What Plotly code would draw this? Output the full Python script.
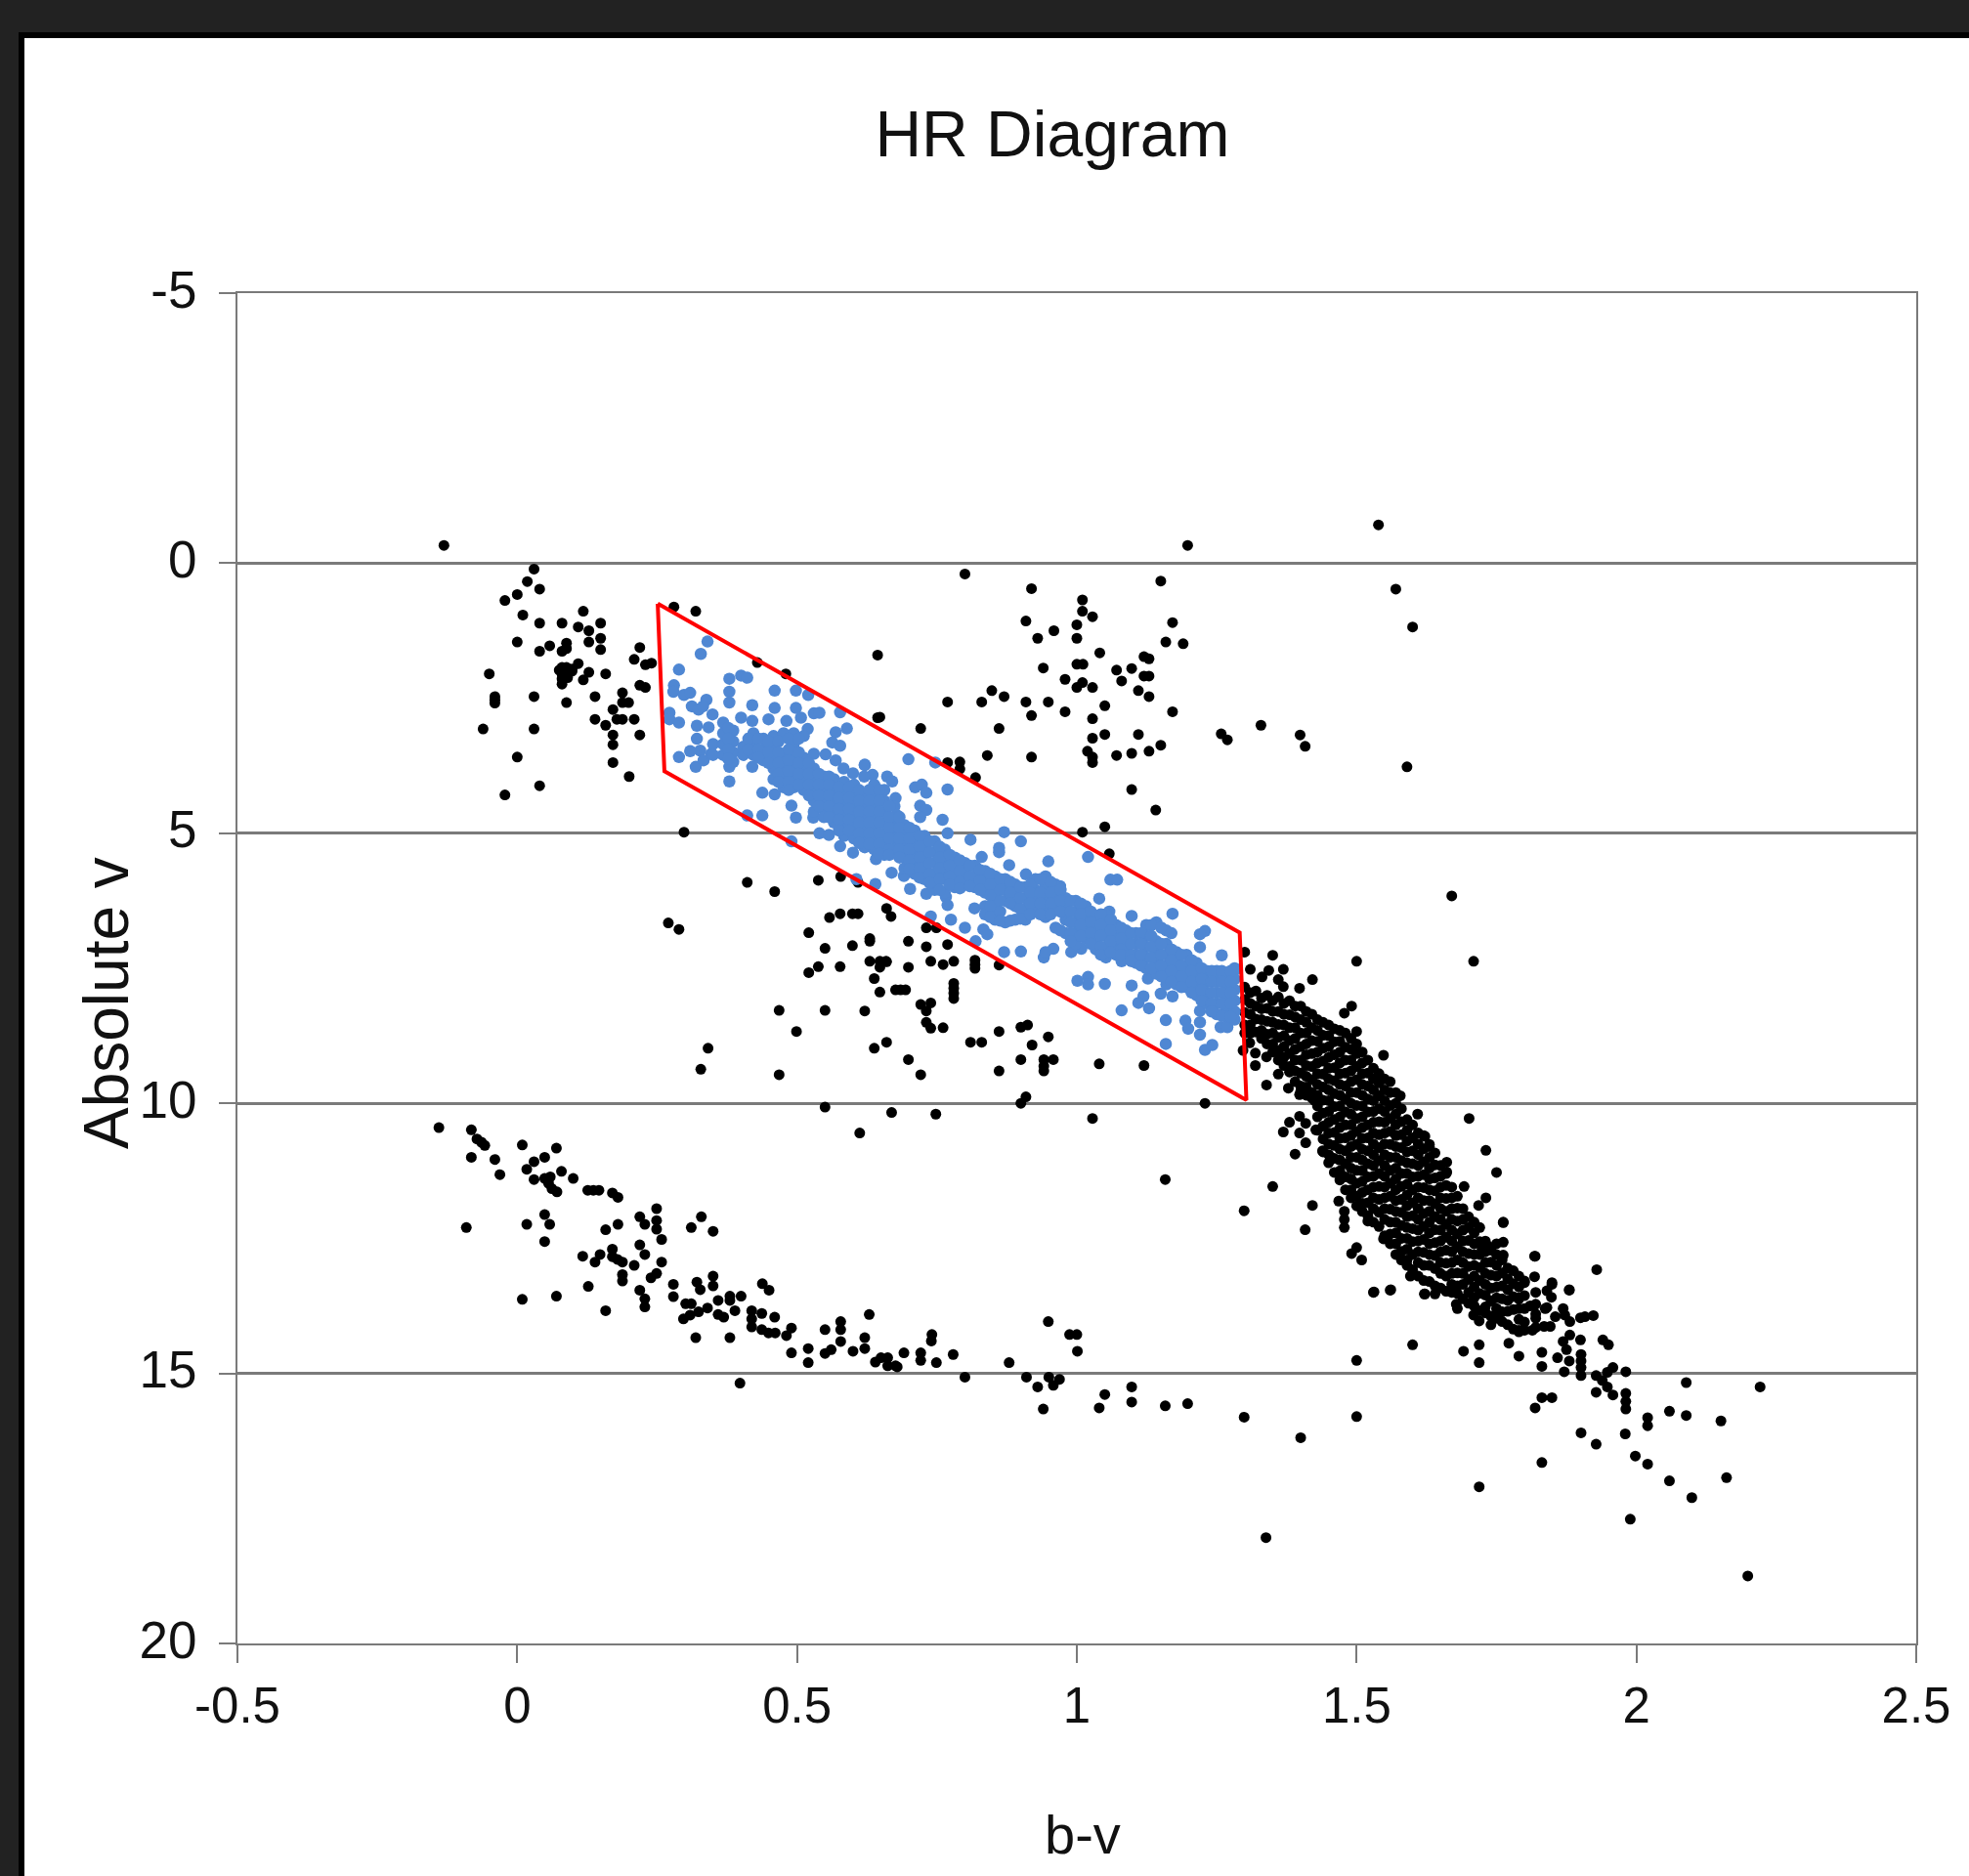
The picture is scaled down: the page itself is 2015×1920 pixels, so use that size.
import plotly.graph_objects as go

x_ticks = [-0.5, 0, 0.5, 1, 1.5, 2, 2.5]
x_tick_text = ["-0.5", "0", "0.5", "1", "1.5", "2", "2.5"]
y_ticks = [-5, 0, 5, 10, 15, 20]
y_tick_text = ["-5", "0", "5", "10", "15", "20"]

region_bv = [0.251, 1.291, 1.303, 0.263, 0.251]
region_mag = [0.75, 6.84, 9.94, 3.85, 0.75]

hot_giants = [(-.131,-.33),(.03,.11),(.018,.34),(.04,.48),(0,.58),(-.022,.69),(.01,.96),(.04,1.11),(.08,1.11),(.118,.89),
(.149,1.11),(.109,1.18),(.128,1.25),(.149,1.39),(.128,1.46),(.149,1.6),(0,1.46),(.04,1.63),(.058,1.53),(.088,1.48),(.08,1.63),
(.088,1.58),(.219,1.56),(.209,1.78),(.229,1.88),(.24,1.85),(.28,.81),(.319,.89),(-.05,2.05),(-.04,2.47),(-.04,2.53),(-.04,2.59),
(.03,2.47),(.088,2.58),(-.061,3.07),(.03,3.07),(0,3.59),(.04,4.12),(-.022,4.29),(.08,1.93),(.088,1.93),(.098,1.96),(.109,1.86),
(.08,2.05),(.088,2.05),(.08,2.14),(.08,2.24),(.128,2.02),(.118,2.16),(.158,2.05),(.139,2.47),(.188,2.4),(.188,2.58),(.199,2.58),
(.171,2.71),(.139,2.89),(.158,3.0),(.178,2.89),(.188,2.89),(.209,2.89),(.219,3.18),(.171,3.18),(.171,3.36),(.171,3.69),(.2,3.95),
(.219,2.26),(.229,2.3),(.429,1.84),(.48,2.05),(.644,1.7),(.644,2.86),(.298,4.98),(.098,2.0),(.09,2.12),(.075,1.98)]

cool_giants = [(.8,.2),(.919,.47),(1.01,.68),(1.01,.89),(1.15,.33),(1.028,.99),(.909,1.07),(1.0,1.14),(.959,1.25),(1.171,1.1),
(.93,1.39),(1.0,1.39),(1.159,1.46),(1.19,1.49),(1.041,1.66),(1.12,1.73),(1.129,1.77),(1.0,1.87),(1.011,1.87),(.94,1.94),(1.071,1.98),
(1.098,1.95),(1.12,2.09),(1.129,2.09),(1.08,2.18),(.979,2.15),(1.01,2.21),(1.0,2.3),(1.028,2.3),(1.11,2.36),(1.129,2.47),
(.848,2.36),(.87,2.47),(.83,2.57),(.769,2.57),(.909,2.57),(.949,2.57),(1.05,2.64),(.979,2.75),(1.171,2.75),(.919,2.82),(1.028,2.88),
(.648,2.85),(.721,3.06),(.861,3.06),(1.05,3.17),(1.11,3.17),(1.028,3.24),(1.258,3.16),(1.269,3.27),(1.15,3.37),(1.129,3.48),
(1.098,3.52),(1.071,3.56),(1.019,3.48),(1.028,3.59),(1.028,3.69),(.84,3.56),(.919,3.59),(.769,3.69),(.791,3.68),(.791,3.81),(.819,3.97),
(1.098,4.19),(1.141,4.57),(1.05,4.88),(1.01,4.98),(1.058,5.38),(1.198,-.33),(1.539,-.71),(1.57,.48),(1.6,1.18),(1.329,3.0),(1.399,3.18),
(1.408,3.39),(1.59,3.77),(1.67,6.16),(1.158,11.41)]

subdwarfs = [(.411,5.91),(.46,6.08),(.538,5.87),(.578,5.8),(.609,5.91),(.63,7.0),(.699,7.0),(.731,6.75),(.749,6.75),(.731,7.1),(.769,7.06),
(.66,6.39),(.668,6.54),(.63,7.37),(.648,7.37),(.66,7.38),(.648,7.48),(.699,7.48),(.739,7.37),(.761,7.43),(.78,7.37),(.818,7.35),(.818,7.43),
(.818,7.5),(.861,7.44),(.638,7.69),(.648,7.94),(.676,7.9),(.685,7.9),(.694,7.9),(.78,7.78),(.78,7.87),(.78,7.96),(.78,8.06),(.621,8.29),
(.721,8.17),(.739,8.14),(.731,8.29),(.731,8.5),(.739,8.61),(.761,8.6),(.861,8.67),(.9,8.59),(.912,8.55),(.949,8.77),(.92,8.92),(.81,8.87),
(.83,8.87),(.638,8.98),(.66,8.87),(.699,9.19),(.721,9.47),(.9,9.19),(.941,9.19),(.941,9.31),(.941,9.4),(.958,9.19),(.861,9.4),(1.04,9.27),
(1.12,9.3),(.9,10.0),(.909,9.88),(1.229,10.0),(.669,10.17),(.748,10.2),(1.028,10.28),(.612,10.55),(.558,6.56),(.577,6.49),(.599,6.49),
(.609,6.49),(.27,6.66),(.289,6.78),(.521,6.84),(.63,6.95),(.55,7.13),(.599,7.08),(.659,7.37),(.538,7.47),(.577,7.47),(.521,7.58),(.468,8.28),
(.55,8.28),(.499,8.67),(.341,8.98),(.328,9.37),(.468,9.47),(.55,10.07)]

cloud_columns = [
(1.30,[7.85,8.08,8.32,8.55,8.7]),
(1.32,[7.92,8.2,8.44,8.68]),
(1.34,[8.0,8.24,8.48,8.72,8.9]),
(1.36,[8.03,8.3,8.54,8.78,9.02,9.2]),
(1.38,[8.1,8.36,8.6,8.84,9.08,9.32,9.42]),
(1.40,[8.2,8.45,8.7,8.95,9.2,9.44,9.68,9.78]),
(1.42,[8.35,8.6,8.84,9.08,9.32,9.56,9.8,9.9]),
(1.44,[8.5,8.74,8.98,9.22,9.46,9.7,9.94,10.18,10.42,10.66,10.9]),
(1.46,[8.62,8.86,9.1,9.34,9.58,9.82,10.06,10.3,10.54,10.78,11.02,11.28]),
(1.48,[8.7,8.96,9.2,9.44,9.68,9.92,10.16,10.4,10.64,10.88,11.12,11.36,11.6]),
(1.50,[8.9,9.08,9.32,9.56,9.8,10.04,10.28,10.52,10.76,11.0,11.24,11.48,11.72,11.9]),
(1.52,[9.2,9.44,9.68,9.92,10.16,10.4,10.64,10.88,11.12,11.36,11.6,11.84,12.08]),
(1.54,[9.45,9.62,9.86,10.1,10.34,10.58,10.82,11.06,11.3,11.54,11.78,12.02,12.28]),
(1.56,[9.6,9.8,10.04,10.28,10.52,10.76,11.0,11.24,11.48,11.72,11.96,12.2,12.42,12.6]),
(1.58,[10.1,10.34,10.58,10.82,11.06,11.3,11.54,11.78,12.02,12.26,12.5,12.74,12.9]),
(1.60,[10.4,10.64,10.88,11.12,11.36,11.6,11.84,12.08,12.32,12.56,12.8,13.08]),
(1.62,[10.6,10.84,11.08,11.32,11.56,11.8,12.04,12.28,12.52,12.76,13.0,13.28]),
(1.64,[10.92,11.14,11.38,11.62,11.86,12.1,12.34,12.58,12.82,13.06,13.38]),
(1.66,[11.3,11.52,11.76,12.0,12.24,12.48,12.72,12.96,13.2,13.48]),
(1.68,[11.72,11.94,12.18,12.42,12.66,12.9,13.14,13.38,13.52]),
(1.70,[12.1,12.3,12.54,12.78,13.02,13.26,13.5,13.7]),
(1.72,[12.3,12.56,12.8,13.04,13.28,13.52,13.84]),
(1.74,[12.72,12.94,13.18,13.42,13.66,13.94]),
(1.76,[12.9,13.14,13.38,13.62,13.86,14.04]),
(1.78,[13.1,13.34,13.58,13.82,14.18]),
(1.80,[13.32,13.56,13.8,14.05,14.2]),
(1.82,[13.5,13.72,13.98,14.15])]

cloud_between_columns = [
(1.31,[7.95,8.15,8.35,8.55,8.7]),
(1.33,[8.05,8.25,8.45,8.65,8.8]),
(1.35,[8.1,8.3,8.5,8.7,8.9,9.05]),
(1.37,[8.15,8.35,8.55,8.75,8.95,9.15,9.3]),
(1.39,[8.2,8.4,8.6,8.8,9.0,9.2,9.4,9.6]),
(1.41,[8.3,8.5,8.7,8.9,9.1,9.3,9.5,9.7,9.85]),
(1.43,[8.45,8.65,8.85,9.05,9.25,9.45,9.65,9.85,10.05,10.25,10.5]),
(1.45,[8.55,8.75,8.95,9.15,9.35,9.55,9.75,9.95,10.15,10.35,10.55,10.75,10.95,11.1]),
(1.47,[8.65,8.85,9.05,9.25,9.45,9.65,9.85,10.05,10.25,10.45,10.65,10.85,11.05,11.25,11.42]),
(1.49,[8.8,9.0,9.2,9.4,9.6,9.8,10.0,10.2,10.4,10.6,10.8,11.0,11.2,11.4,11.6,11.75]),
(1.51,[9.05,9.25,9.45,9.65,9.85,10.05,10.25,10.45,10.65,10.85,11.05,11.25,11.45,11.65,11.85,12.0]),
(1.53,[9.35,9.55,9.75,9.95,10.15,10.35,10.55,10.75,10.95,11.15,11.35,11.55,11.75,11.95,12.2]),
(1.55,[9.55,9.75,9.95,10.15,10.35,10.55,10.75,10.95,11.15,11.35,11.55,11.75,11.95,12.15,12.45]),
(1.57,[9.8,10.0,10.2,10.4,10.6,10.8,11.0,11.2,11.4,11.6,11.8,12.0,12.2,12.4,12.6,12.8]),
(1.59,[10.3,10.5,10.7,10.9,11.1,11.3,11.5,11.7,11.9,12.1,12.3,12.5,12.7,12.9,13.0]),
(1.61,[10.55,10.75,10.95,11.15,11.35,11.55,11.75,11.95,12.15,12.35,12.55,12.75,12.95,13.2]),
(1.63,[10.8,11.0,11.2,11.4,11.6,11.8,12.0,12.2,12.4,12.6,12.8,13.0,13.3]),
(1.65,[11.15,11.35,11.55,11.75,11.95,12.15,12.35,12.55,12.75,12.95,13.15,13.42]),
(1.67,[11.55,11.75,11.95,12.15,12.35,12.55,12.75,12.95,13.15,13.35,13.5]),
(1.69,[11.95,12.15,12.35,12.55,12.75,12.95,13.15,13.35,13.62]),
(1.71,[12.2,12.4,12.6,12.8,13.0,13.2,13.4,13.6,13.75]),
(1.73,[12.55,12.75,12.95,13.15,13.35,13.55,13.88]),
(1.75,[12.8,13.0,13.2,13.4,13.6,13.8,13.98]),
(1.77,[13.05,13.25,13.45,13.65,13.85,14.1]),
(1.79,[13.2,13.4,13.6,13.8,14.0,14.2])]

cloud_edges = [(1.3,7.2),(1.35,7.26),(1.31,7.52),(1.369,7.52),(1.343,7.54),(1.331,7.66),(1.36,7.71),(1.369,7.84),(1.421,7.71),(1.398,7.87),
(1.5,7.37),(1.709,7.37),(1.491,8.2),(1.478,8.33),(1.5,8.67),(1.548,9.11),(1.309,8.88),(1.297,9.02),(1.319,9.07),(1.339,9.14),(1.319,9.3),
(1.36,9.46),(1.339,9.66),(1.378,9.72),(1.398,9.84),(1.425,9.95),(1.578,9.86),(1.609,10.2),(1.701,10.28),(1.38,10.35),(1.369,10.53),(1.398,10.24),
(1.409,10.37),(1.398,10.55),(1.409,10.73),(1.427,10.49),(1.39,10.94),(1.439,10.88),(1.35,11.54),(1.299,11.99),(1.421,11.89),(1.408,12.34),
(1.731,10.87),(1.75,11.28),(1.661,11.09),(1.661,11.27),(1.692,11.54),(1.731,11.75),(1.718,11.89),(1.762,12.2),(1.622,10.61),(1.63,10.76),
(1.818,12.83),(1.818,13.21),(1.849,13.32),(1.88,13.45),(1.491,12.78),(1.5,12.67),(1.509,12.9),(1.53,13.5),(1.561,13.45),(1.621,13.53),
(1.64,13.53),(1.68,13.8),(1.478,12.0),(1.478,12.15),(1.478,12.3),(1.468,11.81),(1.52,12.18),(1.548,12.51),(1.596,13.2),(1.678,13.72)]

red_dwarf_tail = [(1.531,13.49),(1.56,13.46),(1.6,14.47),(1.622,13.53),(1.709,13.92),(1.719,14.03),(1.73,13.77),(1.74,14.1),(1.762,12.21),
(1.762,12.57),(1.75,12.6),(1.735,12.65),(1.724,12.69),(1.762,12.81),(1.819,12.83),(1.8,13.29),(1.849,13.35),(1.84,13.47),(1.848,13.59),
(1.837,13.8),(1.88,13.46),(1.929,13.08),(1.869,13.8),(1.872,13.92),(1.881,14.04),(1.9,13.97),(1.908,13.95),(1.923,13.93),(1.846,14.13),
(1.835,14.13),(1.814,14.2),(1.79,14.23),(1.772,14.44),(1.79,14.68),(1.719,14.47),(1.691,14.59),(1.719,14.8),(1.831,14.61),(1.831,14.87),
(1.859,14.71),(1.869,14.41),(1.881,14.29),(1.9,14.38),(1.875,14.56),(1.88,14.77),(1.871,14.97),(1.901,14.65),(1.901,14.77),(1.901,14.89),
(1.901,15.04),(1.94,14.38),(1.95,14.47),(1.958,14.89),(1.948,14.98),(1.928,15.04),(1.939,15.13),(1.948,15.25),(1.958,15.4),(1.981,14.97),
(1.928,15.35),(1.981,15.37),(1.981,15.52),(1.981,15.66),(2.089,15.17),(2.221,15.25),(2.02,15.82),(2.02,15.97),(2.059,15.7),(2.089,15.78),
(2.151,15.88),(1.831,15.45),(1.849,15.45),(1.819,15.64),(1.901,16.1),(1.928,16.31),(1.98,16.12),(1.831,16.65),(1.719,17.1),(1.998,16.53),
(2.02,16.68),(2.059,16.99),(2.161,16.93),(2.099,17.3),(1.989,17.7),(2.199,18.75),(1.82,13.9),(1.84,13.78),(1.855,13.95),(1.79,13.62),
(1.81,13.75)]

white_dwarfs = [(-.14,10.45),(-.082,10.49),(-.072,10.66),(-.064,10.72),(-.058,10.78),(-.082,11.0),(-.04,11.04),(-.031,11.32),(.009,10.77),
(.07,10.83),(.049,11.0),(.03,11.08),(.017,11.22),(.03,11.41),(.079,11.26),(.1,11.39),(.049,11.39),(.059,11.36),(.056,11.48),(.062,11.58),
(.071,11.64),(.126,11.61),(.136,11.61),(.146,11.61),(.17,11.66),(.18,11.74),(-.091,12.3),(.017,12.24),(.049,12.06),(.058,12.24),(.049,12.56),
(.009,13.63),(.07,13.57),(.127,13.39),(.158,13.84),(.158,12.34),(.18,12.24),(.219,12.1),(.228,12.24),(.249,11.95),(.249,12.17),(.249,12.33),
(.258,12.52),(.329,12.1),(.311,12.3),(.35,12.37),(.117,12.83),(.148,12.8),(.139,12.94),(.17,12.7),(.17,12.84),(.179,12.89),(.188,12.94),
(.209,13.0),(.219,12.62),(.228,12.8),(.258,12.94),(.188,13.17),(.188,13.29),(.249,13.15),(.239,13.23),(.219,13.46),(.228,13.62),(.228,13.77),
(.279,13.35),(.279,13.58),(.321,13.31),(.327,13.45),(.35,13.2),(.35,13.38),(.301,13.71),(.311,13.71),(.297,13.99),(.309,13.92),(.324,13.86),
(.34,13.79),(.359,13.65),(.38,13.57),(.4,13.57),(.38,13.65),(.389,13.84),(.359,13.91),(.369,13.96),(.319,14.34),(.38,14.34),(.438,13.34),
(.45,13.46),(.419,13.84),(.419,13.99),(.419,14.14),(.437,13.89),(.46,13.96),(.437,14.19),(.449,14.25),(.461,14.25),(.481,14.3),(.49,14.16),
(.49,14.62),(.52,14.54),(.52,14.8),(.55,14.19),(.55,14.63),(.561,14.56),(.578,14.04),(.578,14.19),(.578,14.41),(.6,14.59),(.621,14.34),
(.621,14.54),(.629,13.91),(.64,14.79),(.65,14.71),(.662,14.71),(.662,14.86),(.676,14.86),(.398,15.18),(.679,14.88),(.691,14.62),(.721,14.62),
(.721,14.76),(.749,14.8),(.779,14.65),(.8,15.07),(.879,14.8),(.91,15.07),(.93,15.25),(.95,15.07),(.969,15.11),(.958,15.22),(.94,15.66),
(1.001,14.59),(1.05,15.39),(1.04,15.64),(1.098,15.25),(1.098,15.53),(1.158,15.6),(1.198,15.56),(1.299,15.81),(1.4,16.19),(1.338,18.04),
(1.5,14.76),(1.5,15.8),(.949,14.04),(.987,14.28),(1.0,14.28),(.741,14.28),(.74,14.4)]

selected_core_columns = [
(.35,[3.35,3.55]),(.368,[2.95,3.15,3.35,3.55]),(.386,[3.1,3.3,3.5,3.68]),(.404,[3.4,3.55]),(.422,[3.15,3.35,3.55]),
(.44,[3.25,3.45,3.65]),(.458,[3.2,3.4,3.6,3.8,4.0]),(.476,[3.15,3.55,3.75,3.95,4.15]),(.494,[3.15,3.35,3.55,3.75,3.95,4.15]),
(.512,[3.2,3.6,3.8,4.0,4.2]),(.53,[3.8,4.0,4.2,4.4,4.6]),(.548,[3.95,4.15,4.35,4.55,4.7]),(.566,[4.0,4.2,4.4,4.6,4.8]),
(.584,[4.05,4.25,4.45,4.65,4.85,5.05]),(.602,[4.1,4.3,4.5,4.7,4.9,5.1]),(.62,[3.95,4.3,4.5,4.7,4.9,5.1,5.25]),
(.638,[4.1,4.3,4.5,4.7,4.9,5.1,5.3]),(.656,[4.2,4.4,4.6,4.8,5.0,5.2,5.4]),(.674,[4.5,4.7,4.9,5.1,5.3]),
(.692,[4.85,5.05,5.25,5.45,5.65]),(.71,[4.95,5.15,5.35,5.55,5.75]),(.728,[5.05,5.25,5.45,5.65,5.85]),
(.746,[5.15,5.35,5.55,5.75,5.95,6.05]),(.764,[5.3,5.5,5.7,5.85,6.1]),(.782,[5.45,5.65,5.85,6.0]),(.8,[5.55,5.75,5.95]),
(.818,[5.6,5.8,6.0]),(.836,[5.7,5.9,6.1,6.35,6.5]),(.854,[5.8,6.0,6.2,6.4,6.6]),(.872,[5.85,6.05,6.25,6.65]),
(.89,[5.95,6.15,6.35,6.6]),(.908,[6.0,6.2,6.4,6.6]),(.926,[5.85,6.05,6.25,6.45]),(.944,[5.8,6.0,6.2,6.4,6.55]),
(.962,[5.95,6.15,6.35,6.75]),(.98,[6.2,6.4,6.6,6.85]),(.998,[6.25,6.45,6.65,6.85,7.05]),(1.016,[6.35,6.55,6.75,6.95]),
(1.034,[6.55,6.75,6.95,7.15]),(1.052,[6.5,6.7,6.9,7.1,7.3]),(1.07,[6.7,6.9,7.1,7.25]),(1.088,[6.8,7.0,7.2]),
(1.106,[6.85,7.05,7.25,7.4]),(1.124,[6.7,6.9,7.1,7.3,7.5]),(1.142,[6.65,7.0,7.2,7.4,7.6]),(1.16,[6.8,7.05,7.25,7.45,7.65,7.8]),
(1.178,[7.2,7.4,7.6,7.8]),(1.196,[7.25,7.45,7.65,7.85]),(1.214,[7.4,7.6,7.8,8.0]),(1.232,[7.55,7.75,7.95,8.15]),
(1.25,[7.55,7.75,7.95,8.15,8.35]),(1.268,[7.6,7.8,8.0,8.2,8.4]),(1.282,[7.5,7.7,7.9,8.1,8.3,8.45])]

selected_between_columns = [
(.377,[3.05,3.25,3.45,3.62]),(.413,[3.25,3.45]),(.431,[3.25,3.45,3.6]),(.449,[3.3,3.5,3.7]),(.467,[3.3,3.5,3.7,3.9,4.05]),
(.485,[3.25,3.45,3.65,3.85,4.05,4.2]),(.503,[3.25,3.5,3.7,3.9,4.1]),(.521,[3.7,3.9,4.1,4.3]),(.539,[3.9,4.1,4.3,4.5]),
(.557,[3.95,4.1,4.3,4.5,4.7]),(.575,[4.15,4.35,4.55,4.75,4.95]),(.593,[4.15,4.35,4.55,4.75,4.95]),(.611,[4.2,4.4,4.6,4.8,5.0,5.18]),
(.629,[4.2,4.4,4.6,4.8,5.0,5.2]),(.647,[4.2,4.4,4.6,4.8,5.0,5.2,5.38]),(.665,[4.5,4.7,4.9,5.1,5.3,5.4]),(.683,[4.7,4.9,5.1,5.3,5.45]),
(.701,[4.9,5.1,5.3,5.5,5.66]),(.719,[5.05,5.25,5.45,5.65,5.82]),(.737,[5.15,5.35,5.55,5.75,5.92]),(.755,[5.25,5.45,5.65,5.85,6.05]),
(.773,[5.4,5.6,5.8,5.95]),(.791,[5.5,5.7,5.9,6.02]),(.809,[5.6,5.8,5.98]),(.827,[5.68,5.88,6.05]),(.845,[5.75,5.95,6.15,6.35,6.55]),
(.863,[5.85,6.05,6.25,6.45,6.62]),(.881,[5.9,6.1,6.3,6.62]),(.899,[6.0,6.2,6.4,6.58]),(.917,[5.95,6.1,6.3,6.5]),(.935,[5.85,6.1,6.3,6.5]),
(.953,[5.9,6.1,6.3,6.5]),(.971,[6.05,6.25,6.45,6.8]),(.989,[6.25,6.45,6.65,6.85,7.0]),(1.007,[6.3,6.5,6.7,6.9]),(1.025,[6.45,6.65,6.85,7.05]),
(1.043,[6.5,6.7,6.9,7.1,7.25]),(1.061,[6.6,6.8,7.0,7.2]),(1.079,[6.75,6.95,7.15,7.25]),(1.097,[6.85,7.05,7.25,7.35]),(1.115,[6.85,7.05,7.25,7.45]),
(1.133,[6.7,6.9,7.1,7.3,7.5]),(1.151,[6.75,7.05,7.25,7.45,7.65]),(1.169,[6.85,7.15,7.35,7.55,7.75]),(1.187,[7.25,7.45,7.65,7.85]),
(1.205,[7.35,7.55,7.75,7.95]),(1.223,[7.5,7.7,7.9,8.1]),(1.241,[7.55,7.75,7.95,8.15,8.3]),(1.259,[7.55,7.75,7.95,8.15,8.38]),
(1.275,[7.55,7.75,7.95,8.15,8.4])]

selected_scatter = [(.34,1.45),(.328,1.68),(.289,1.97),(.28,2.26),(.279,2.38),(.298,2.44),(.309,2.4),(.379,2.14),(.4,2.08),(.411,2.12),
(.379,2.38),(.379,2.58),(.46,2.36),(.498,2.36),(.52,2.44),(.42,2.63),(.46,2.68),(.498,2.68),(.53,2.78),(.54,2.77),(.577,2.76),(.449,2.89),
(.481,2.92),(.507,2.86),(.4,2.86),(.42,2.92),(.272,2.77),(.272,2.89),(.289,2.95),(.312,2.65),(.324,2.71),(.338,2.53),(.332,2.65),(.349,2.8),
(.321,3.01),(.342,3.04),(.589,3.06),(.569,3.13),(.519,3.07),(.321,3.25),(.327,3.47),(.309,3.48),(.289,3.59),(.319,3.77),(.333,3.65),(.347,3.53),
(.379,3.77),(.379,4.04),(.42,3.77),(.438,4.25),(.46,4.28),(.49,4.49),(.498,4.71),(.438,4.67),(.411,4.67),(.529,4.71),(.49,5.15),(.54,5.0),
(.557,5.03),(.577,5.24),(.6,5.36),(.621,5.26),(.641,5.48),(.606,5.85),(.64,5.94),(.53,3.53),(.551,3.54),(.569,3.65),(.563,3.32),(.577,3.38),
(.583,3.8),(.6,3.89),(.621,3.74),(.635,3.92),(.699,3.63),(.747,3.69),(.621,3.73),(.661,3.95),(.67,4.04),(.711,4.15),(.723,4.1),(.731,4.25),
(.769,4.19),(.676,4.35),(.72,4.49),(.731,4.57),(.72,4.7),(.679,4.67),(.76,4.75),(.769,5.0),(.81,5.12),(.87,4.98),(.9,5.15),(.861,5.27),(.861,5.35),
(.83,5.44),(.879,5.59),(.909,5.76),(.949,5.52),(1.02,5.44),(1.06,5.86),(1.072,5.86),(1.04,6.21),(1.058,6.45),(1.098,6.53),(1.171,6.49),(.941,5.88),
(.961,5.97),(.97,5.98),(1.229,6.81),(1.22,6.87),(1.22,7.11),(1.259,7.26),(1.283,7.53),(.669,5.73),(.691,5.79),(.702,6.03),(.731,6.12),(.766,6.18),
(.769,6.33),(.775,6.6),(.739,6.54),(.8,6.75),(.817,6.39),(.819,7.0),(.833,6.78),(.84,6.87),(.87,7.2),(.9,7.19),(.941,7.3),(.958,7.14),(.944,7.2),
(.99,7.2),(1.008,7.14),(1.08,7.37),(1.098,7.37),(1.127,7.69),(1.05,7.79),(1.02,7.66),(1.02,7.8),(1.001,7.73),(1.098,7.82),(1.15,7.97),(1.171,8.02),
(1.119,8.02),(1.11,8.14),(1.129,8.24),(1.08,8.28),(1.159,8.46),(1.194,8.47),(1.199,8.62),(1.22,8.29),(1.22,8.5),(1.22,8.73),(1.229,9.01),(1.242,8.92),
(1.159,8.9),(1.257,8.59),(1.269,8.59),(1.229,8.1),(1.264,8.32),(1.275,8.38)]

black_points = hot_giants + cool_giants + subdwarfs + cloud_edges + red_dwarf_tail + white_dwarfs
black_points = black_points + [(x, y) for x, ys in cloud_columns + cloud_between_columns for y in ys]
blue_points = selected_scatter + [(x, y) for x, ys in selected_core_columns + selected_between_columns for y in ys]

AXIS_GREY = "#7a7a7a"
TEXT = "#111111"
FONT = "Liberation Sans"

fig = go.Figure()
fig.add_trace(go.Scatter(x=[p[0] for p in black_points], y=[p[1] for p in black_points], mode="markers",
                         marker=dict(color="black", size=11), name="All stars"))
fig.add_trace(go.Scatter(x=[p[0] for p in blue_points], y=[p[1] for p in blue_points], mode="markers",
                         marker=dict(color="#4f87d3", size=12.5), name="Selected"))
fig.add_trace(go.Scatter(x=region_bv, y=region_mag, mode="lines",
                         line=dict(color="#ff0000", width=4), name="Region"))

fig.update_layout(
    width=2015, height=1920, autosize=False, showlegend=False,
    paper_bgcolor="#222222", plot_bgcolor="white",
    margin=dict(l=243, r=54, t=300, b=238, autoexpand=False),
    font=dict(family=FONT, color=TEXT),
    title=dict(text="HR Diagram", x=1077 / 2015, y=1 - 137 / 1920, xanchor="center", yanchor="middle",
               font=dict(size=66, family=FONT, color=TEXT)),
    shapes=[dict(type="rect", layer="below", xref="paper", yref="paper",
                 x0=-221 / 1718, x1=1.1, y0=-0.3, y1=1 + 264 / 1382,
                 fillcolor="white", line=dict(color="black", width=6))],
    annotations=[
        dict(text="b-v", xref="paper", yref="paper", x=(1108 - 243) / 1718, y=(1682 - 1878) / 1382,
             showarrow=False, xanchor="center", yanchor="middle", font=dict(size=56, family=FONT, color=TEXT)),
        dict(text="Absolute v", xref="paper", yref="paper", x=(109 - 243) / 1718, y=(1682 - 1027) / 1382,
             showarrow=False, xanchor="center", yanchor="middle", textangle=-90, font=dict(size=64, family=FONT, color=TEXT)),
    ],
)
fig.update_xaxes(range=[-0.5, 2.5], tickmode="array", tickvals=x_ticks, ticktext=x_tick_text,
                 showgrid=False, zeroline=False, showline=True, linecolor=AXIS_GREY, linewidth=2, mirror=True,
                 ticks="outside", ticklen=18, tickwidth=2, tickcolor=AXIS_GREY,
                 tickfont=dict(size=51, family=FONT, color=TEXT), ticklabelstandoff=0)
fig.update_yaxes(range=[20, -5], tickmode="array", tickvals=y_ticks, ticktext=y_tick_text,
                 showgrid=True, gridcolor=AXIS_GREY, gridwidth=2.5, zeroline=False, showline=True,
                 linecolor=AXIS_GREY, linewidth=2, mirror=True,
                 ticks="outside", ticklen=17, tickwidth=2, tickcolor=AXIS_GREY,
                 tickfont=dict(size=53, family=FONT, color=TEXT), ticklabelstandoff=12, ticklabelshift=4)

fig.write_html("out.html", config={"displayModeBar": False},
               post_script="document.body.style.margin='0';document.body.style.background='#222222';document.body.style.overflow='hidden';")
